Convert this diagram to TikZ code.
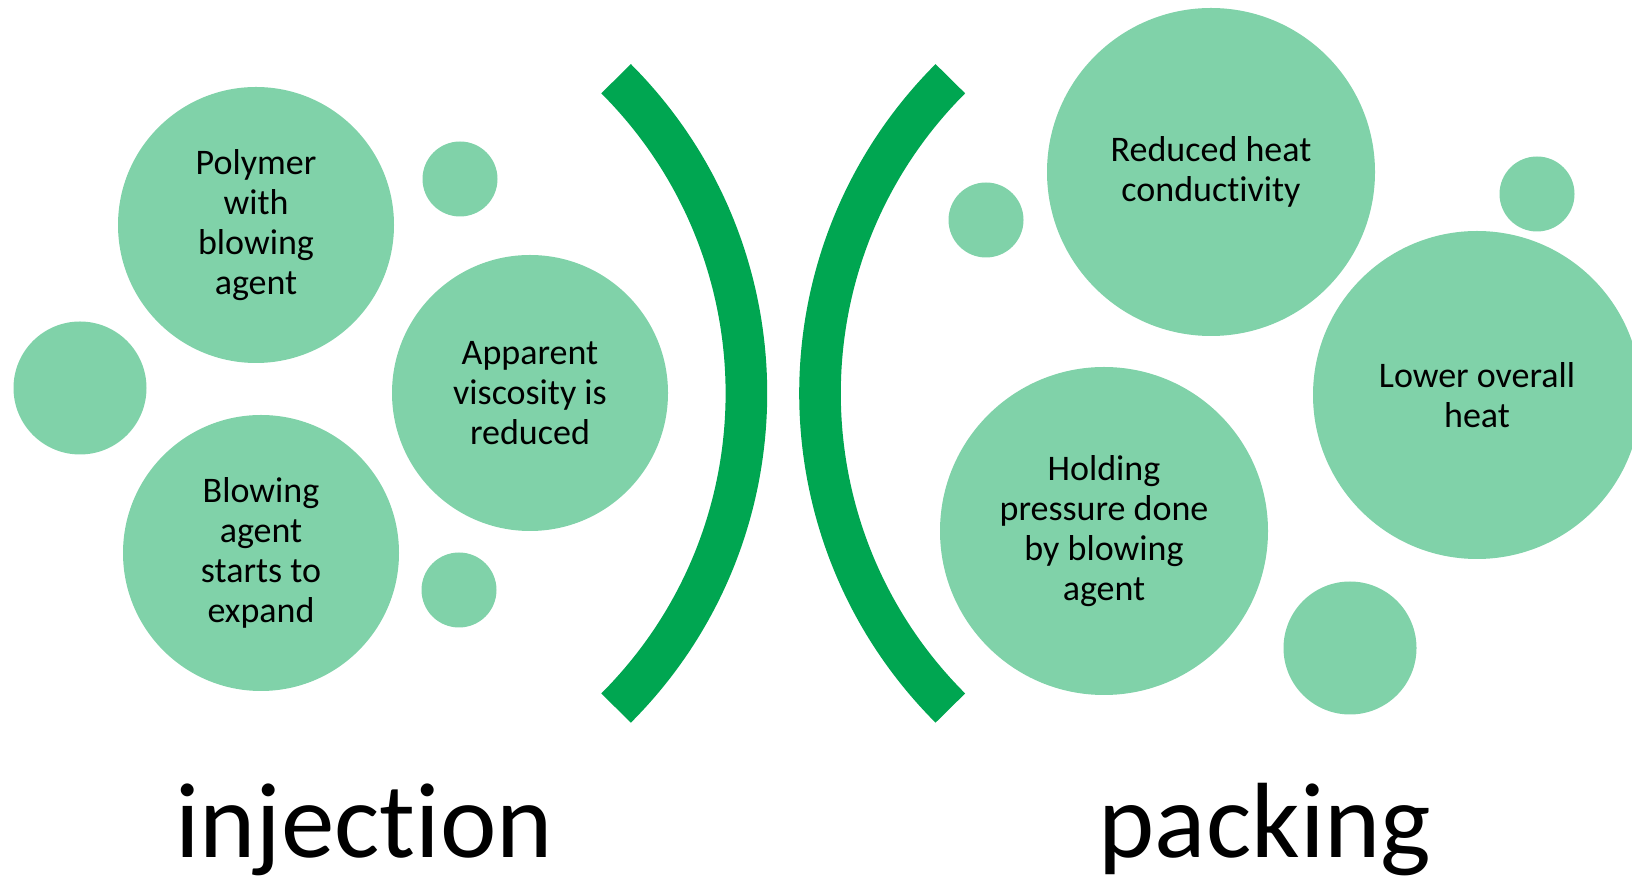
\documentclass[tikz,border=0pt]{standalone}
\usepackage{fontspec}
\setmainfont{Carlito}[RawFeature={-liga,-dlig,-clig}]
\usepackage{tikz}
\definecolor{bubblegreen}{HTML}{80D2A9}
\definecolor{bracegreen}{HTML}{00A651}

\begin{document}
\begin{tikzpicture} [x=1pt,y=1pt,
    bub/.style={circle,fill=bubblegreen,inner sep=0pt,align=center,font=\fontsize{36}{40}\selectfont},
    bubS/.style={bub,minimum size=75pt},
    bubM/.style={bub,minimum size=133pt},
    bubL/.style={bub,minimum size=276pt},
    bubXL/.style={bub,minimum size=328pt},
    brace/.style={draw=bracegreen,line width=41.6pt},
    stage/.style={anchor=base,font=\fontsize{107}{120}\selectfont}]
    \useasboundingbox (0,0) rectangle (1632,883);
    \begin{scope}
    \clip (0,0) rectangle (1632,883);
      \node[bubL] (polymer) at (256,658) {Polymer\\with\\blowing\\agent};
      \node[bubS] (s1) at (460,704) {};
      \node[bubM] (m1) at (80,495) {};
      \node[bubL] (visc) at (530,490) {Apparent\\viscosity is\\reduced};
      \node[bubL] (expand) at (261,330) {Blowing\\agent\\starts to\\expand};
      \node[bubS] (s2) at (459,293) {};
      \node[bubS] (s3) at (986,663) {};
      \node[bubXL] (cond) at (1211,711) {Reduced heat\\conductivity};
      \node[bubS] (s4) at (1537,689) {};
      \node[bubXL] (heat) at (1477,488) {Lower overall\\heat};
      \node[bubXL] (hold) at (1104,352) {Holding\\pressure done\\by blowing\\agent};
      \node[bubM] (m2) at (1350,235) {};
    \end{scope}
    \coordinate (lc) at (301.4,489.6);
    \coordinate (rc) at (1265,489.6);
    \draw[brace] (lc) ++(45:445pt) arc[start angle=45,end angle=-45,radius=445pt];
    \draw[brace] (rc) ++(135:445pt) arc[start angle=135,end angle=225,radius=445pt];
      \node[stage] (inj) at (364,26) {injection};
      \node[stage] (pack) at (1265,26) {packing};
    \end{tikzpicture}
\end{document}
